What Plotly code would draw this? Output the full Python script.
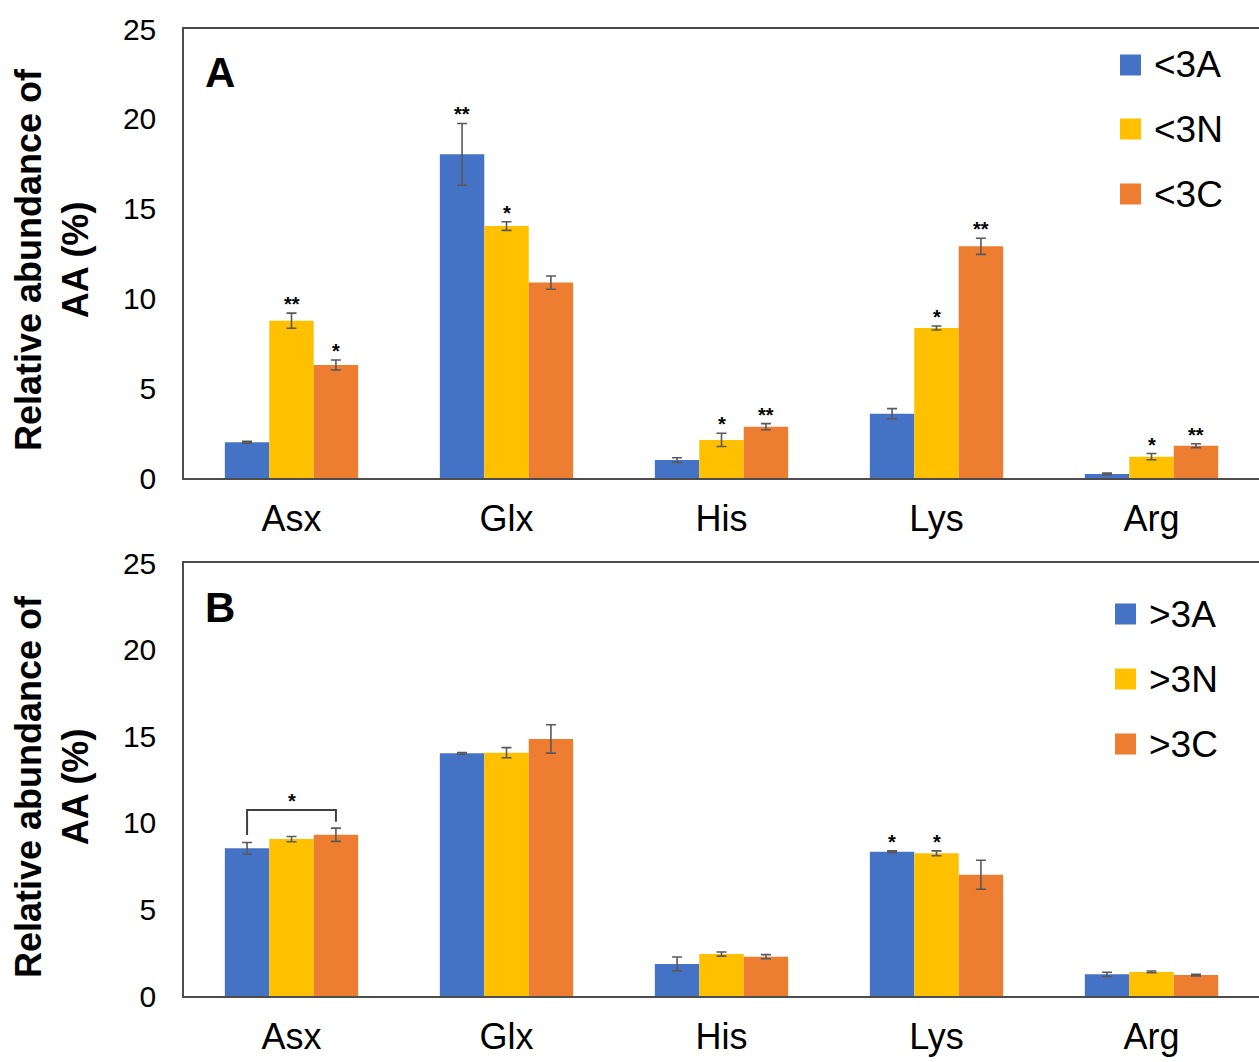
import plotly.graph_objects as go
from plotly.subplots import make_subplots

# Amino acid categories
amino_acids = ["Asx", "Glx", "His", "Lys", "Arg"]

# Panel A: <3 kDa fractions (mean and SD, %)
a_names = ["<3A", "<3N", "<3C"]
a_3A = [1.99, 18.02, 1.00, 3.58, 0.22]
a_3N = [8.76, 14.03, 2.12, 8.35, 1.19]
a_3C = [6.29, 10.88, 2.86, 12.90, 1.80]
a_3A_sd = [0.05, 1.72, 0.13, 0.28, 0.05]
a_3N_sd = [0.42, 0.24, 0.37, 0.11, 0.17]
a_3C_sd = [0.28, 0.37, 0.17, 0.45, 0.11]
a_sig_3A = ["", "**", "", "", ""]
a_sig_3N = ["**", "*", "*", "*", "*"]
a_sig_3C = ["*", "", "**", "**", "**"]

# Panel B: >3 kDa fractions (mean and SD, %)
b_names = [">3A", ">3N", ">3C"]
b_3A = [8.53, 14.01, 1.85, 8.33, 1.25]
b_3N = [9.06, 14.05, 2.42, 8.24, 1.39]
b_3C = [9.31, 14.84, 2.27, 7.00, 1.21]
b_3A_sd = [0.33, 0.05, 0.40, 0.05, 0.12]
b_3N_sd = [0.15, 0.29, 0.12, 0.14, 0.05]
b_3C_sd = [0.38, 0.82, 0.12, 0.84, 0.05]
b_sig_3A = ["", "", "", "*", ""]
b_sig_3N = ["", "", "", "*", ""]
b_sig_3C = ["", "", "", "", ""]

colors = ["#4472C4", "#FFC000", "#ED7D31"]
font_family = "Liberation Sans, Arial, sans-serif"
W, H = 1259, 1062
BARGAP = 0.38
bar_w = (1 - BARGAP) / 3
offsets = [-bar_w, 0.0, bar_w]

fig = make_subplots(rows=2, cols=1)

panels = [
    (1, a_names, [a_3A, a_3N, a_3C], [a_3A_sd, a_3N_sd, a_3C_sd],
     [a_sig_3A, a_sig_3N, a_sig_3C]),
    (2, b_names, [b_3A, b_3N, b_3C], [b_3A_sd, b_3N_sd, b_3C_sd],
     [b_sig_3A, b_sig_3N, b_sig_3C]),
]

for row, names, vals, sds, sigs in panels:
    xref = "x" if row == 1 else "x2"
    yref = "y" if row == 1 else "y2"
    for k in range(3):
        fig.add_trace(
            go.Bar(
                x=amino_acids, y=vals[k], name=names[k], showlegend=False,
                marker=dict(color=colors[k], line=dict(width=0)),
                error_y=dict(type="data", array=sds[k], visible=True,
                             color="#595959", thickness=1.6, width=5),
            ),
            row=row, col=1,
        )
        # significance marks above the error bars
        for i, s in enumerate(sigs[k]):
            if s:
                fig.add_annotation(
                    x=i + offsets[k], y=vals[k][i] + sds[k][i],
                    xref=xref, yref=yref, text=f"<b>{s}</b>",
                    showarrow=False, yanchor="bottom", yshift=-4,
                    font=dict(family=font_family, size=20, color="black"),
                )

# bracket between >3A and >3C for Asx
fig.add_shape(
    type="path", xref="x2", yref="y2",
    path=f"M {offsets[0]} 9.30 L {offsets[0]} 10.74 L {offsets[2]} 10.74 L {offsets[2]} 10.06",
    line=dict(color="#404040", width=2),
)
fig.add_annotation(
    x=0, y=10.74, xref="x2", yref="y2", text="<b>*</b>", showarrow=False,
    yanchor="bottom", yshift=-4,
    font=dict(family=font_family, size=20, color="black"),
)

# legends drawn as swatches with labels, one block per panel
legend_blocks = [
    (a_names, 1120, 1152, [65, 129, 194]),
    (b_names, 1115, 1147, [614, 679, 744]),
]
for names, sq_x, txt_x, centers in legend_blocks:
    for k, (name, cy) in enumerate(zip(names, centers)):
        fig.add_shape(
            type="rect", xref="paper", yref="paper",
            x0=sq_x / W, x1=(sq_x + 21) / W,
            y0=1 - (cy + 10.5) / H, y1=1 - (cy - 10.5) / H,
            fillcolor=colors[k], line=dict(width=0),
        )
        fig.add_annotation(
            x=txt_x / W, y=1 - cy / H, xref="paper", yref="paper", text=name,
            showarrow=False, xanchor="left", yanchor="middle",
            font=dict(family=font_family, size=37, color="black"),
        )

# panel letters
for label, ypx in [("A", 72), ("B", 607)]:
    fig.add_annotation(
        x=220 / W, y=1 - ypx / H, xref="paper", yref="paper", text=f"<b>{label}</b>",
        showarrow=False, xanchor="center", yanchor="middle",
        font=dict(family=font_family, size=42, color="black"),
    )

# y-axis titles
for ypx in [260, 787]:
    fig.add_annotation(
        x=52 / W, y=1 - ypx / H, xref="paper", yref="paper",
        text="<b>Relative abundance of<br>AA (%)</b>", textangle=-90,
        showarrow=False, xanchor="center", yanchor="middle",
        font=dict(family=font_family, size=36, color="black"),
    )

x_dom = [184 / W, 1.0]
axis_common = dict(showline=True, linecolor="#4d4d4d", linewidth=1.5,
                   showgrid=False, zeroline=False, ticks="", automargin=False)
fig.update_xaxes(**axis_common, domain=x_dom, mirror=True,
                 tickfont=dict(family=font_family, size=36, color="black"),
                 ticklabelstandoff=8)
fig.update_yaxes(**axis_common, range=[0, 25], dtick=5,
                 tickfont=dict(family=font_family, size=30, color="black"),
                 ticklabelstandoff=20)
fig.update_layout(
    xaxis=dict(anchor="y"), xaxis2=dict(anchor="y2"),
    yaxis=dict(domain=[1 - 478 / H, 1 - 29 / H]),
    yaxis2=dict(domain=[1 - 996 / H, 1 - 563 / H]),
)

fig.update_layout(
    width=W, height=H,
    margin=dict(l=0, r=0, t=0, b=0, autoexpand=False),
    plot_bgcolor="white", paper_bgcolor="white",
    barmode="group", bargap=BARGAP, bargroupgap=0,
    showlegend=False,
)

fig.write_html("out.html")
